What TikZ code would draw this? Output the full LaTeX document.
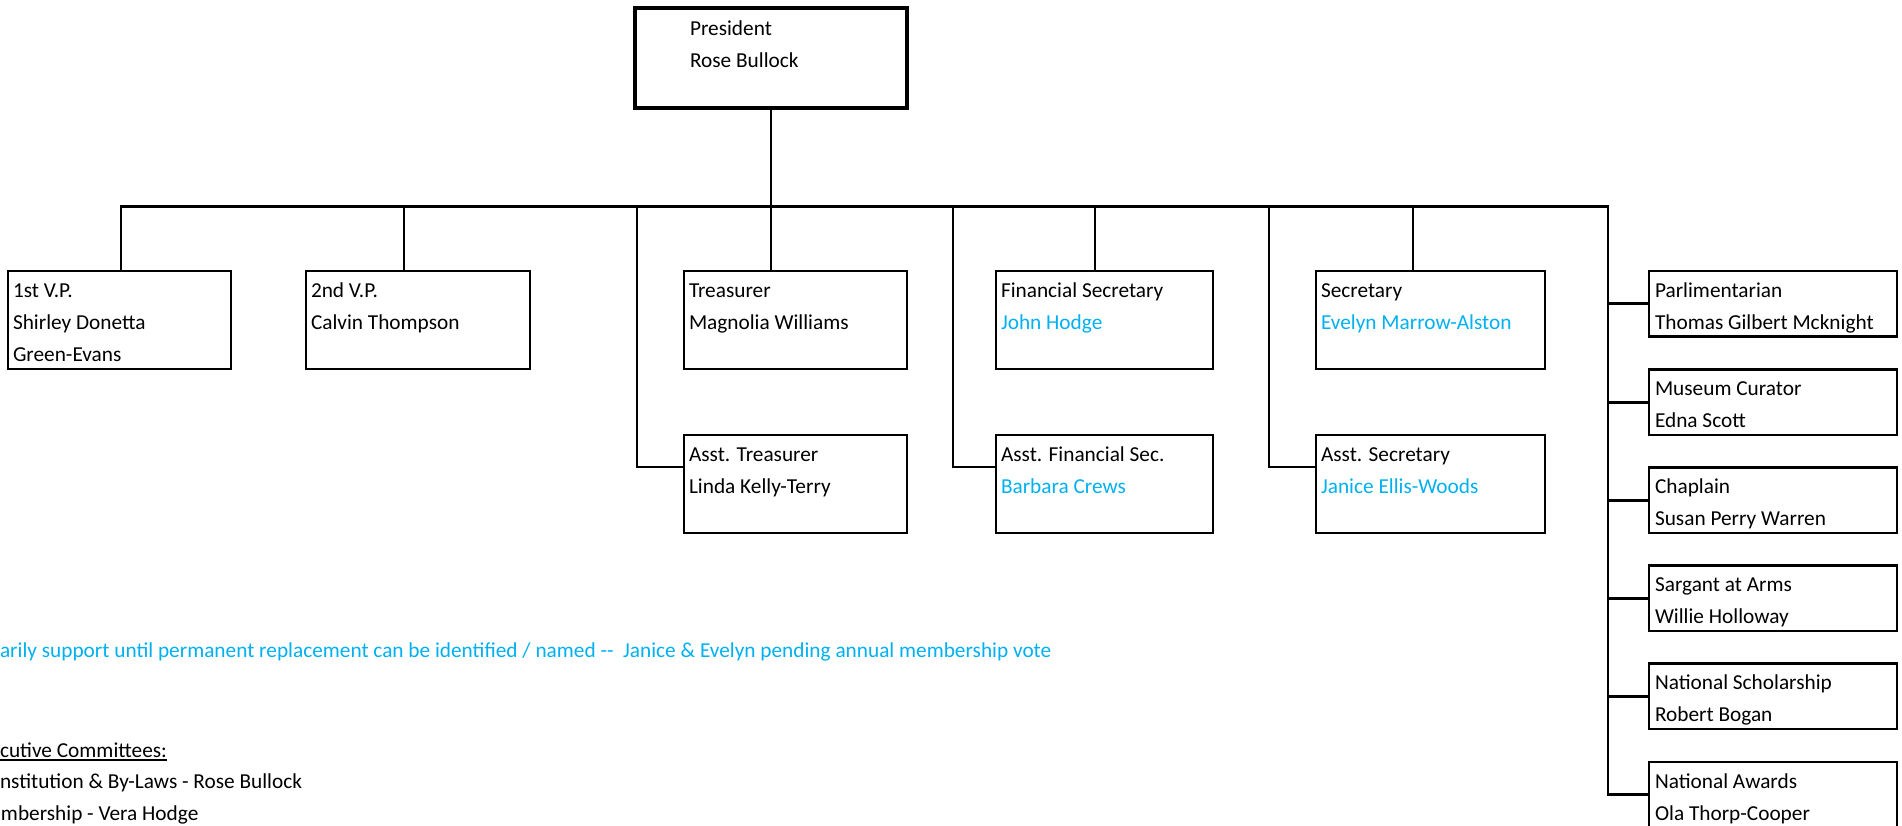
\documentclass[tikz,border=0pt]{standalone}
\usepackage{fontspec}
\setmainfont{Carlito}
\definecolor{xlblue}{HTML}{00B0F0}
\begin{document}
\begin{tikzpicture}[x=1pt,y=-1pt,
  box/.style={draw,rectangle,line width=2.7pt,inner sep=0pt,outer sep=0pt,anchor=north west,minimum height=98pt},
  rbox/.style={box,minimum width=248pt,minimum height=65.5pt},
  txt/.style={inner sep=0pt,outer sep=0pt,anchor=base west,font=\fontsize{21.3}{32}\selectfont},
  vac/.style={txt,text=xlblue},
  conn/.style={line width=2.7pt}
]
\useasboundingbox (0,0) rectangle (1902,826);
\clip (0,0) rectangle (1902,826);

% President
\node[box,line width=4.3pt,minimum width=272pt,minimum height=100pt] (pres) at (635,8) {};
\node[txt] (presT) at (690,36) {President};
\node[txt] (presN) at (690,68) {Rose Bullock};

% Row 1
\node[box,minimum width=223pt] (vp1) at (8,271) {};
\node[txt] (vp1T) at (13,297) {1st V.P.};
\node[txt] (vp1N) at (13,329) {Shirley Donetta};
\node[txt] (vp1M) at (13,361) {Green-Evans};

\node[box,minimum width=224pt] (vp2) at (306,271) {};
\node[txt] (vp2T) at (311,297) {2nd V.P.};
\node[txt] (vp2N) at (311,329) {Calvin Thompson};

\node[box,minimum width=223pt] (tre) at (684,271) {};
\node[txt] (treT) at (689,297) {Treasurer};
\node[txt] (treN) at (689,329) {Magnolia Williams};

\node[box,minimum width=217pt] (fin) at (996,271) {};
\node[txt] (finT) at (1001,297) {Financial Secretary};
\node[vac] (finN) at (1001,329) {John Hodge};

\node[box,minimum width=229pt] (sec) at (1316,271) {};
\node[txt] (secT) at (1321,297) {Secretary};
\node[vac] (secN) at (1321,329) {Evelyn Marrow-Alston};

% Row 2
\node[box,minimum width=223pt] (atre) at (684,435) {};
\node[txt] (atreT) at (689,461) {Asst. Treasurer};
\node[txt] (atreN) at (689,493) {Linda Kelly-Terry};

\node[box,minimum width=217pt] (afin) at (996,435) {};
\node[txt] (afinT) at (1001,461) {Asst. Financial Sec.};
\node[vac] (afinN) at (1001,493) {Barbara Crews};

\node[box,minimum width=229pt] (asec) at (1316,435) {};
\node[txt] (asecT) at (1321,461) {Asst. Secretary};
\node[vac] (asecN) at (1321,493) {Janice Ellis-Woods};

% Right column
\node[rbox] (r1) at (1649,271) {};
\node[txt] (r1T) at (1655,297) {Parlimentarian};
\node[txt] (r1N) at (1655,329) {Thomas Gilbert Mcknight};

\node[rbox] (r2) at (1649,369.5) {};
\node[txt] (r2T) at (1655,395.5) {Museum Curator};
\node[txt] (r2N) at (1655,427.5) {Edna Scott};

\node[rbox] (r3) at (1649,467.5) {};
\node[txt] (r3T) at (1655,493.5) {Chaplain};
\node[txt] (r3N) at (1655,525.5) {Susan Perry Warren};

\node[rbox] (r4) at (1649,565.5) {};
\node[txt] (r4T) at (1655,591.5) {Sargant at Arms};
\node[txt] (r4N) at (1655,623.5) {Willie Holloway};

\node[rbox] (r5) at (1649,663.5) {};
\node[txt] (r5T) at (1655,689.5) {National Scholarship};
\node[txt] (r5N) at (1655,721.5) {Robert Bogan};

\node[rbox] (r6) at (1649,762) {};
\node[txt] (r6T) at (1655,788) {National Awards};
\node[txt] (r6N) at (1655,820) {Ola Thorp-Cooper};

% Connectors
\coordinate (busL) at (121,206.5);
\coordinate (busR) at (1608,206.5);
\coordinate (j2) at (404,206.5);
\coordinate (jT) at (637,206.5);
\coordinate (jF) at (953,206.5);
\coordinate (jFs) at (1095,206.5);
\coordinate (jS) at (1269,206.5);
\coordinate (jSs) at (1413,206.5);
\coordinate (hA) at (0,467);

\draw[conn] (busL |- vp1.north) -- (busL) -- (busR) -- (busR |- r6.west) -- (r6.west);
\draw[conn] (pres.south) -- (pres.south |- tre.north);
\draw[conn] (j2) -- (j2 |- vp2.north);
\draw[conn] (jT) |- (atre.west |- hA);
\draw[conn] (jF) |- (afin.west |- hA);
\draw[conn] (jFs) -- (jFs |- fin.north);
\draw[conn] (jS) |- (asec.west |- hA);
\draw[conn] (jSs) -- (jSs |- sec.north);
\draw[conn] (busR |- r1.west) -- (r1.west);
\draw[conn] (busR |- r2.west) -- (r2.west);
\draw[conn] (busR |- r3.west) -- (r3.west);
\draw[conn] (busR |- r4.west) -- (r4.west);
\draw[conn] (busR |- r5.west) -- (r5.west);

% Notes
\node[vac] (note) at (0,657) {arily support until permanent replacement can be identified / named -{}-\ \ Janice \& Evelyn pending annual membership vote};
\node[txt] (cmt) at (0,757) {cutive Committees:};
\draw[line width=1.6pt] ([yshift=-3pt]cmt.base west) -- ([yshift=-3pt]cmt.base east);
\node[txt] (c1) at (0,788) {nstitution \& By-Laws - Rose Bullock};
\node[txt] (c2) at (1,820) {mbership - Vera Hodge};
\end{tikzpicture}
\end{document}
